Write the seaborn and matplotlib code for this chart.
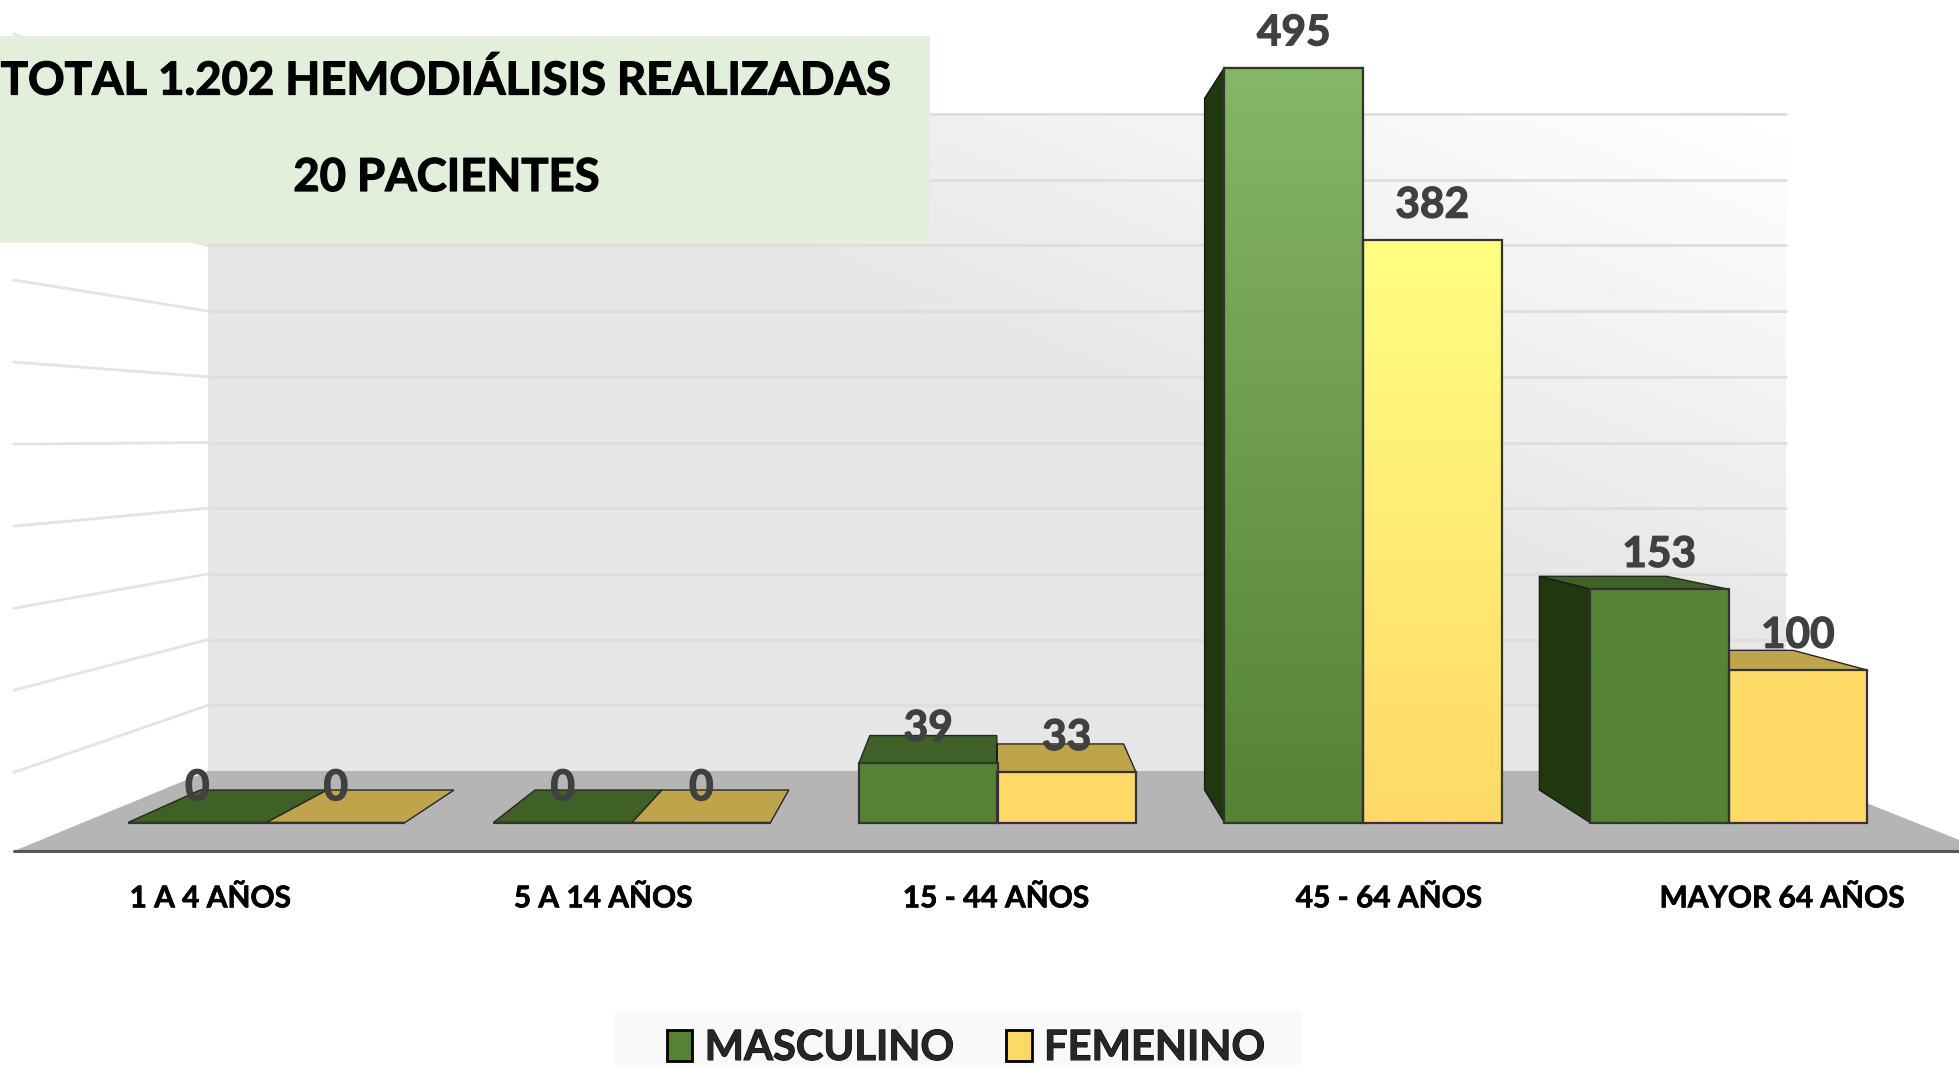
import numpy as np
import pandas as pd
import matplotlib
matplotlib.use("Agg")
import matplotlib.pyplot as plt
import matplotlib.patheffects as pe
import seaborn as sns
from matplotlib.colors import to_rgb
from matplotlib.patches import Polygon, Rectangle
from matplotlib.transforms import IdentityTransform

W, H = 1959, 1065

age_groups = ["1 A 4 AÑOS", "5 A 14 AÑOS", "15 - 44 AÑOS", "45 - 64 AÑOS", "MAYOR 64 AÑOS"]
masculino = [0, 0, 39, 495, 153]
femenino = [0, 0, 33, 382, 100]
sexes = ["MASCULINO", "FEMENINO"]
grid_values = [50, 100, 150, 200, 250, 300, 350, 400, 450, 500]
title_lines = ["TOTAL 1.202 HEMODIÁLISIS REALIZADAS", "20 PACIENTES"]

base_colors = {"MASCULINO": "#558235", "FEMENINO": "#ffd966"}
top_colors = {"MASCULINO": "#86b668", "FEMENINO": "#ffff82"}
roof_colors = {"MASCULINO": "#3f6027", "FEMENINO": "#c0a44c"}
side_colors = {"MASCULINO": "#203810", "FEMENINO": "#7f6a2c"}

df = pd.DataFrame({
    "edad": age_groups * 2,
    "sexo": np.repeat(sexes, len(age_groups)),
    "casos": masculino + femenino,
})

sns.set_theme(style="white")
plt.rcParams["font.family"] = ["Lato", "DejaVu Sans"]
plt.rcParams["font.weight"] = "bold"


def heavy(color, lw=0.7):
    return [pe.withStroke(linewidth=lw, foreground=color)]


fig = plt.figure(figsize=(W / 100, H / 100), dpi=100, facecolor="white")
ax = fig.add_axes([0, (H - 851) / H, 1, 851 / H])
ax.patch.set_visible(False)

sns.barplot(data=df, x="edad", y="casos", hue="sexo", order=age_groups, hue_order=sexes,
            palette=base_colors, width=0.758, gap=0, saturation=1, errorbar=None,
            edgecolor="#333333", linewidth=1.6, ax=ax, zorder=3)

X0 = 266.5
x_limits = (-X0 / 365.5, (W - X0) / 365.5)
y_limits = (-28.5 / 1.525, 822.5 / 1.525)
ax.set_xlim(x_limits)
ax.set_ylim(y_limits)

# punto de fuga de la perspectiva, en pixeles (y hacia abajo)
VPX, VPY = 988, 436
DEPTH = 0.916


def disp(px, py):
    return px, H - py


def back(px, py, s=DEPTH):
    return VPX + (px - VPX) * s, VPY + (py - VPY) * s


def add_poly(points, **kw):
    ax.add_patch(Polygon([disp(*p) for p in points], closed=True, transform=IdentityTransform(),
                         clip_on=False, **kw))


# pared del fondo con degradado
WALL_L, WALL_R, WALL_T, WALL_B = 208, 1786, 113, 771
xx, yy = np.meshgrid(np.linspace(0, 1, 200), np.linspace(1, 0, 200))
d = np.clip((xx + yy - 1.15) / 0.85, 0, 1)
ax.imshow(0xe6 / 255 + d * (1 - 0xe6 / 255), cmap="gray", vmin=0, vmax=1, aspect="auto", zorder=0,
          extent=(WALL_L, WALL_R, H - WALL_B, H - WALL_T), transform=IdentityTransform())

# piso
add_poly([(14, 851), (1987, 851), (WALL_R, WALL_B), (WALL_L, WALL_B)], facecolor="#b5b5b5",
         edgecolor="none", zorder=1)
ax.plot([14, W], [H - 851, H - 851], color="#565656", lw=2.2, transform=IdentityTransform(),
        clip_on=False, zorder=1.5)

# lineas de la pared y de la pared lateral
for v in grid_values:
    py = WALL_B - 65.7 * v / 50
    ax.plot([WALL_L, WALL_R], [H - py, H - py], color="#dedede", lw=2,
            transform=IdentityTransform(), zorder=0.5)
    x_end, y_end = back(WALL_L, py, (VPX - 14) / (VPX - WALL_L))
    ax.plot([x_end, WALL_L], [H - y_end, H - py], color="#e4e4e4", lw=2,
            transform=IdentityTransform(), zorder=0.5)

# fondo de la leyenda, sale por debajo de la figura
fig.add_artist(Rectangle((615, 0), 686, H - 1010, facecolor="#f9f9f9", edgecolor="none",
                         transform=IdentityTransform(), zorder=0))

sns.move_legend(ax, "center", bbox_to_anchor=(966 / W, (H - 1048) / H), bbox_transform=fig.transFigure,
                ncol=2, title=None, frameon=False, fontsize=30, handlelength=0.61, handleheight=0.78,
                handletextpad=0.3, columnspacing=1.25, borderpad=0, borderaxespad=0)
for h, t in zip(ax.get_legend().legend_handles, ax.get_legend().get_texts()):
    h.set_edgecolor("black")
    h.set_linewidth(2)
    t.set_path_effects(heavy("black"))

# caras 3D y degradado de cada barra
for sexo, cont in zip(sexes, ax.containers):
    vmax = df.loc[df["sexo"] == sexo, "casos"].max()
    c0 = np.array(to_rgb(base_colors[sexo]))
    c1 = np.array(to_rgb(top_colors[sexo]))
    for bar, value in zip(cont.patches, df.loc[df["sexo"] == sexo, "casos"]):
        (x0, y0), (x1, y1) = ax.transData.transform(
            [(bar.get_x(), 0), (bar.get_x() + bar.get_width(), value)])
        y0, y1 = H - y0, H - y1
        add_poly([(x0, y1), (x1, y1), back(x1, y1), back(x0, y1)], facecolor=roof_colors[sexo],
                 edgecolor="#262626", lw=1, zorder=1.8)
        if x0 > VPX:
            add_poly([(x0, y0), (x0, y1), back(x0, y1), back(x0, y0)], facecolor=side_colors[sexo],
                     edgecolor="#1a1a1a", lw=1, zorder=2)
        if value > 0:
            top = c0 + (c1 - c0) * (value / vmax) ** 3
            grad = np.linspace(top, c0, 100).reshape(100, 1, 3)
            im = ax.imshow(grad, aspect="auto", zorder=3.2, interpolation="bilinear",
                           extent=(bar.get_x(), bar.get_x() + bar.get_width(), 0, value))
            im.set_clip_path(bar)
        bar.set_facecolor("none")
        bar.set_zorder(3.4)
    labels = ax.bar_label(cont, padding=11, fontsize=30.5, color="#404040", zorder=6)
    for t in labels:
        t.set_path_effects(heavy("#404040", 0.9))

ax.set_xlim(x_limits)
ax.set_ylim(y_limits)

# etiquetas del eje proyectadas sobre el borde del piso
centers = np.arange(len(age_groups))
label_pos = [((VPX + (X0 + 365.5 * c - VPX) * 1.075) - X0 - 2) / 365.5 for c in centers]
ax.set_xticks(label_pos, age_groups)
ax.set_yticks([])
ax.set_xlabel("")
ax.set_ylabel("")
ax.tick_params(axis="x", length=0, pad=24, labelsize=21.5, labelcolor="black")
for t in ax.get_xticklabels():
    t.set_path_effects(heavy("black", 0.5))
sns.despine(ax=ax, left=True, bottom=True)

# recuadro del titulo
ax.add_patch(Rectangle((0, H - 243), 930, 207, facecolor="#e2efda", edgecolor="none",
                       transform=IdentityTransform(), clip_on=False, zorder=7))
for line, py, px in zip(title_lines, [81, 178], [445, 446]):
    ax.text(px, H - py, line, transform=IdentityTransform(), ha="center", va="center",
            fontsize=32.7, color="black", zorder=8, path_effects=heavy("black", 0.9))

fig.savefig("out.png", dpi=100)
